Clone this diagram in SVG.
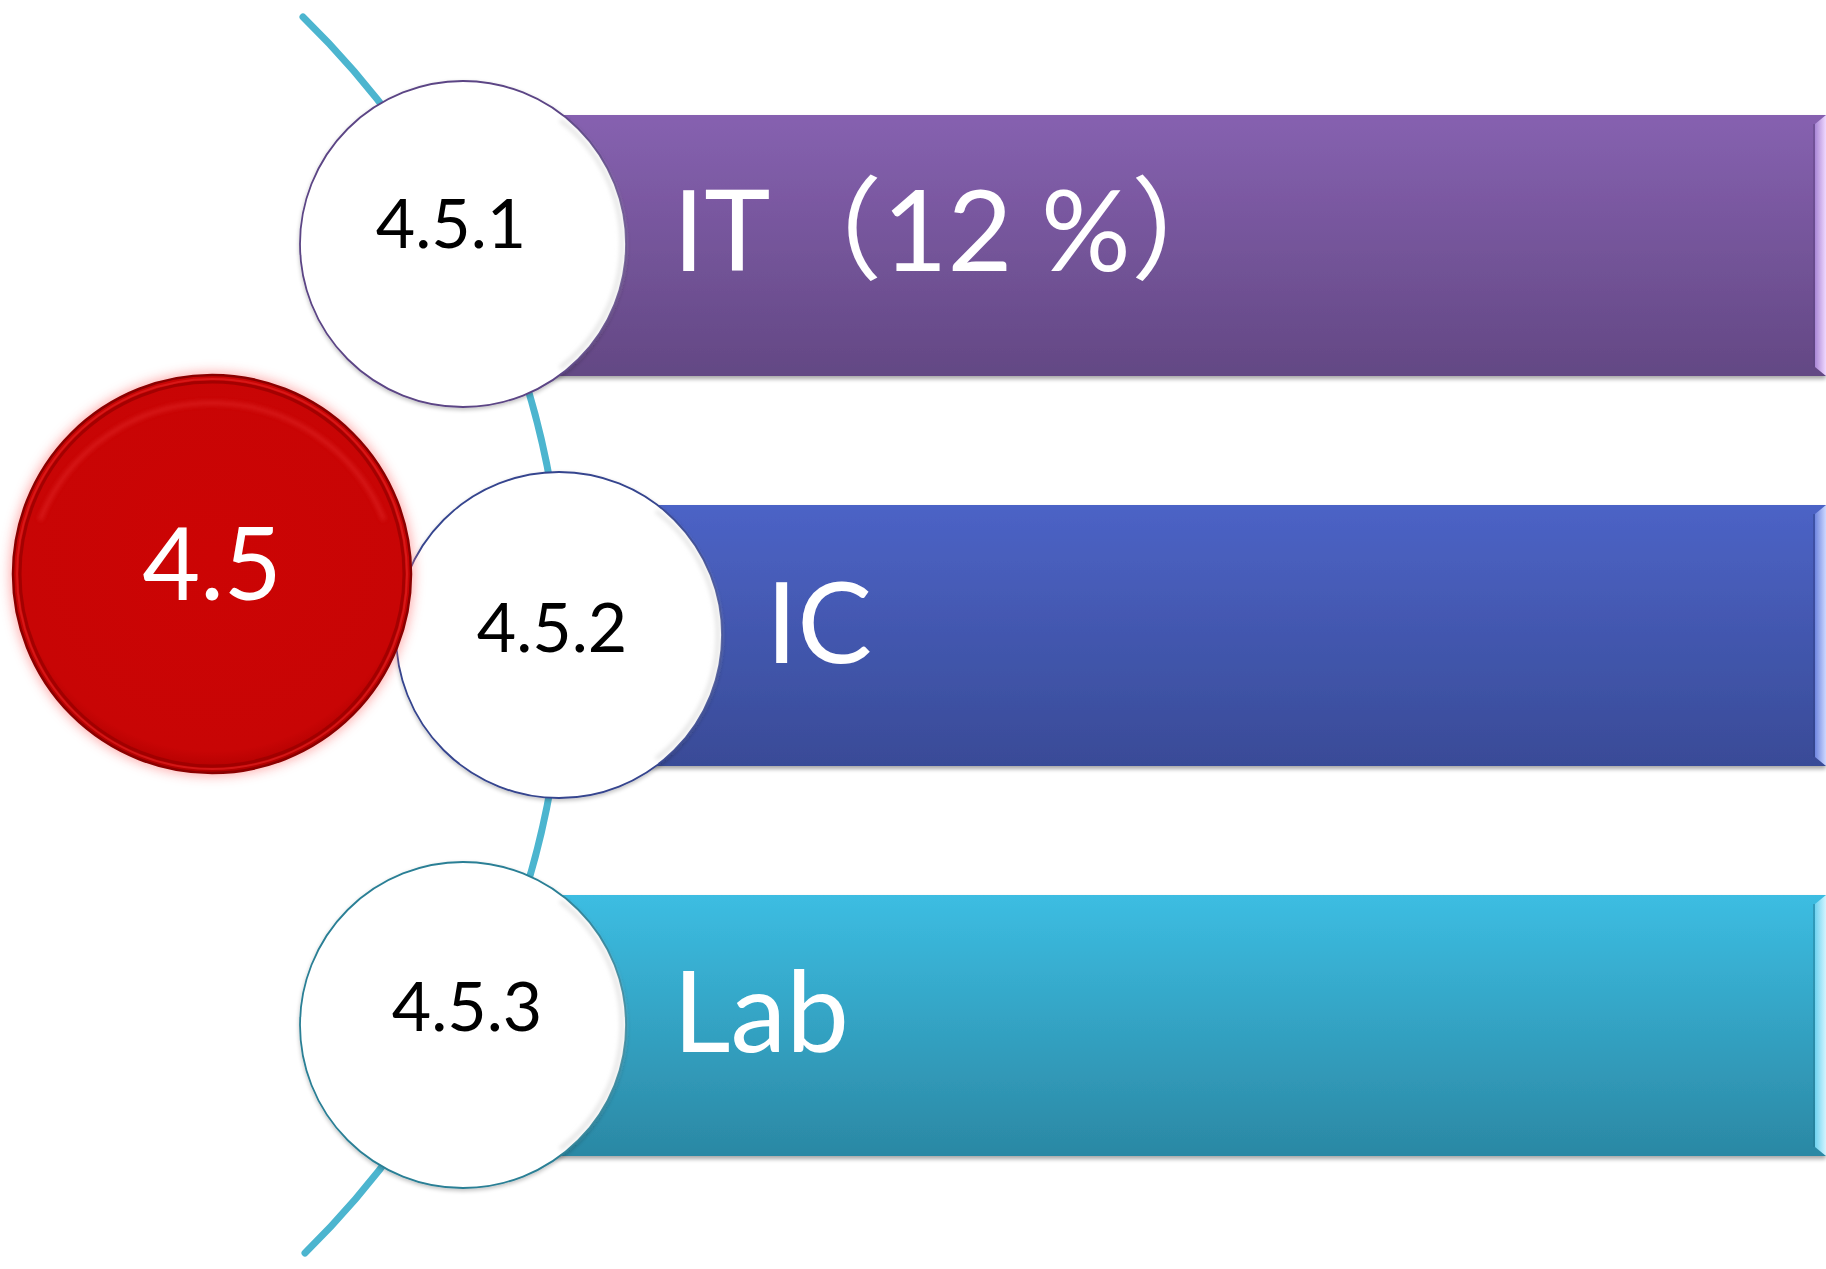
<svg xmlns="http://www.w3.org/2000/svg" width="1826" height="1269" viewBox="0 0 1826 1269">
<defs>
<linearGradient id="gPurple" x1="0" y1="0" x2="0" y2="1"><stop offset="0" stop-color="#8661b0"/><stop offset="1" stop-color="#634884"/></linearGradient>
<linearGradient id="gBlue" x1="0" y1="0" x2="0" y2="1"><stop offset="0" stop-color="#4c63c6"/><stop offset="1" stop-color="#394b97"/></linearGradient>
<linearGradient id="gTeal" x1="0" y1="0" x2="0" y2="1"><stop offset="0" stop-color="#3cbde2"/><stop offset="1" stop-color="#2b88a4"/></linearGradient>
<linearGradient id="gBevP" x1="0" y1="0" x2="1" y2="0"><stop offset="0" stop-color="#a987d6"/><stop offset="1" stop-color="#f0d8ff"/></linearGradient>
<linearGradient id="gBevB" x1="0" y1="0" x2="1" y2="0"><stop offset="0" stop-color="#6f86e0"/><stop offset="1" stop-color="#cdd8ff"/></linearGradient>
<linearGradient id="gBevT" x1="0" y1="0" x2="1" y2="0"><stop offset="0" stop-color="#6fd3f0"/><stop offset="1" stop-color="#d2f4ff"/></linearGradient>
<radialGradient id="gRed" cx="0.5" cy="0.45" r="0.55"><stop offset="0" stop-color="#cc0404"/><stop offset="0.9" stop-color="#c80505"/><stop offset="1" stop-color="#b00000"/></radialGradient>
<filter id="shadow" x="-5%" y="-10%" width="110%" height="125%"><feGaussianBlur in="SourceAlpha" stdDeviation="2"/><feOffset dy="3"/><feComponentTransfer><feFuncA type="linear" slope="0.35"/></feComponentTransfer><feMerge><feMergeNode/><feMergeNode in="SourceGraphic"/></feMerge></filter>
<filter id="cshadow" x="-10%" y="-10%" width="120%" height="120%"><feGaussianBlur in="SourceAlpha" stdDeviation="2"/><feOffset dy="2"/><feComponentTransfer><feFuncA type="linear" slope="0.25"/></feComponentTransfer><feMerge><feMergeNode/><feMergeNode in="SourceGraphic"/></feMerge></filter>
<filter id="glow" x="-20%" y="-20%" width="140%" height="140%"><feGaussianBlur stdDeviation="6"/></filter>
<filter id="soft" x="-10%" y="-10%" width="120%" height="120%"><feGaussianBlur stdDeviation="2"/></filter>
</defs>
<style>
.bartext{font-family:"Lato","Noto Sans CJK SC",sans-serif;font-size:112px;fill:#ffffff}
.ctext{font-family:"Lato",sans-serif;font-size:68px;fill:#000000;text-anchor:middle}
.wc{fill:#ffffff;stroke-width:1.8}
.ring{fill:none;stroke:#e4e4e4;stroke-width:4}
</style>
<rect width="1826" height="1269" fill="#ffffff"/>
<g id="connectors">
<path d="M303,17 A865,865 0 0 1 305,1253" fill="none" stroke="#4cb5cf" stroke-width="7" stroke-linecap="round"/>
</g>
<g id="bar1" filter="url(#shadow)">
<rect x="470" y="115" width="1356" height="261" fill="url(#gPurple)"/>
<polygon points="1815,124 1826,115 1826,376 1815,367" fill="url(#gBevP)"/>
<line x1="1814" y1="124" x2="1814" y2="367" stroke="#5c4380" stroke-width="1.5" opacity="0.6"/>
<text class="bartext" x="673" y="271">IT（12 %）</text>
</g>
<g id="bar2" filter="url(#shadow)">
<rect x="560" y="505" width="1266" height="261" fill="url(#gBlue)"/>
<polygon points="1815,514 1826,505 1826,766 1815,757" fill="url(#gBevB)"/>
<line x1="1814" y1="514" x2="1814" y2="757" stroke="#2f3f85" stroke-width="1.5" opacity="0.6"/>
<text class="bartext" x="766" y="663">IC</text>
</g>
<g id="bar3" filter="url(#shadow)">
<rect x="470" y="895" width="1356" height="261" fill="url(#gTeal)"/>
<polygon points="1815,904 1826,895 1826,1156 1815,1147" fill="url(#gBevT)"/>
<line x1="1814" y1="904" x2="1814" y2="1147" stroke="#237790" stroke-width="1.5" opacity="0.6"/>
<text class="bartext" x="673" y="1052">Lab</text>
</g>
<g id="node451" filter="url(#cshadow)">
<circle class="wc" cx="463" cy="244" r="163" stroke="#5b4585"/>
<path class="ring" d="M560,120 A155,155 0 0 1 560,368" filter="url(#soft)"/>
<text class="ctext" x="451" y="248">4.5.1</text>
</g>
<g id="node452" filter="url(#cshadow)">
<circle class="wc" cx="559" cy="635" r="163" stroke="#35448e"/>
<path class="ring" d="M656,511 A155,155 0 0 1 656,759" filter="url(#soft)"/>
<text class="ctext" x="552" y="652">4.5.2</text>
</g>
<g id="node453" filter="url(#cshadow)">
<circle class="wc" cx="463" cy="1025" r="163" stroke="#2a7f95"/>
<path class="ring" d="M560,901 A155,155 0 0 1 560,1149" filter="url(#soft)"/>
<text class="ctext" x="467" y="1031">4.5.3</text>
</g>
<g id="node45">
<circle cx="212" cy="574" r="202" fill="#ff6a6a" opacity="0.55" filter="url(#glow)"/>
<circle cx="212" cy="574" r="199" fill="url(#gRed)" stroke="#8a0000" stroke-width="2.5"/>
<circle cx="212" cy="574" r="192" fill="none" stroke="#9a0000" stroke-width="3" opacity="0.8"/>
<circle cx="212" cy="574" r="195" fill="none" stroke="#e02020" stroke-width="2" opacity="0.7"/>
<path d="M40,520 A185,185 0 0 1 384,520" fill="none" stroke="#e83030" stroke-width="4" opacity="0.5" filter="url(#soft)"/>
<text x="212" y="600" font-family="Lato, sans-serif" font-size="100" fill="#ffffff" text-anchor="middle">4.5</text>
</g>
</svg>
